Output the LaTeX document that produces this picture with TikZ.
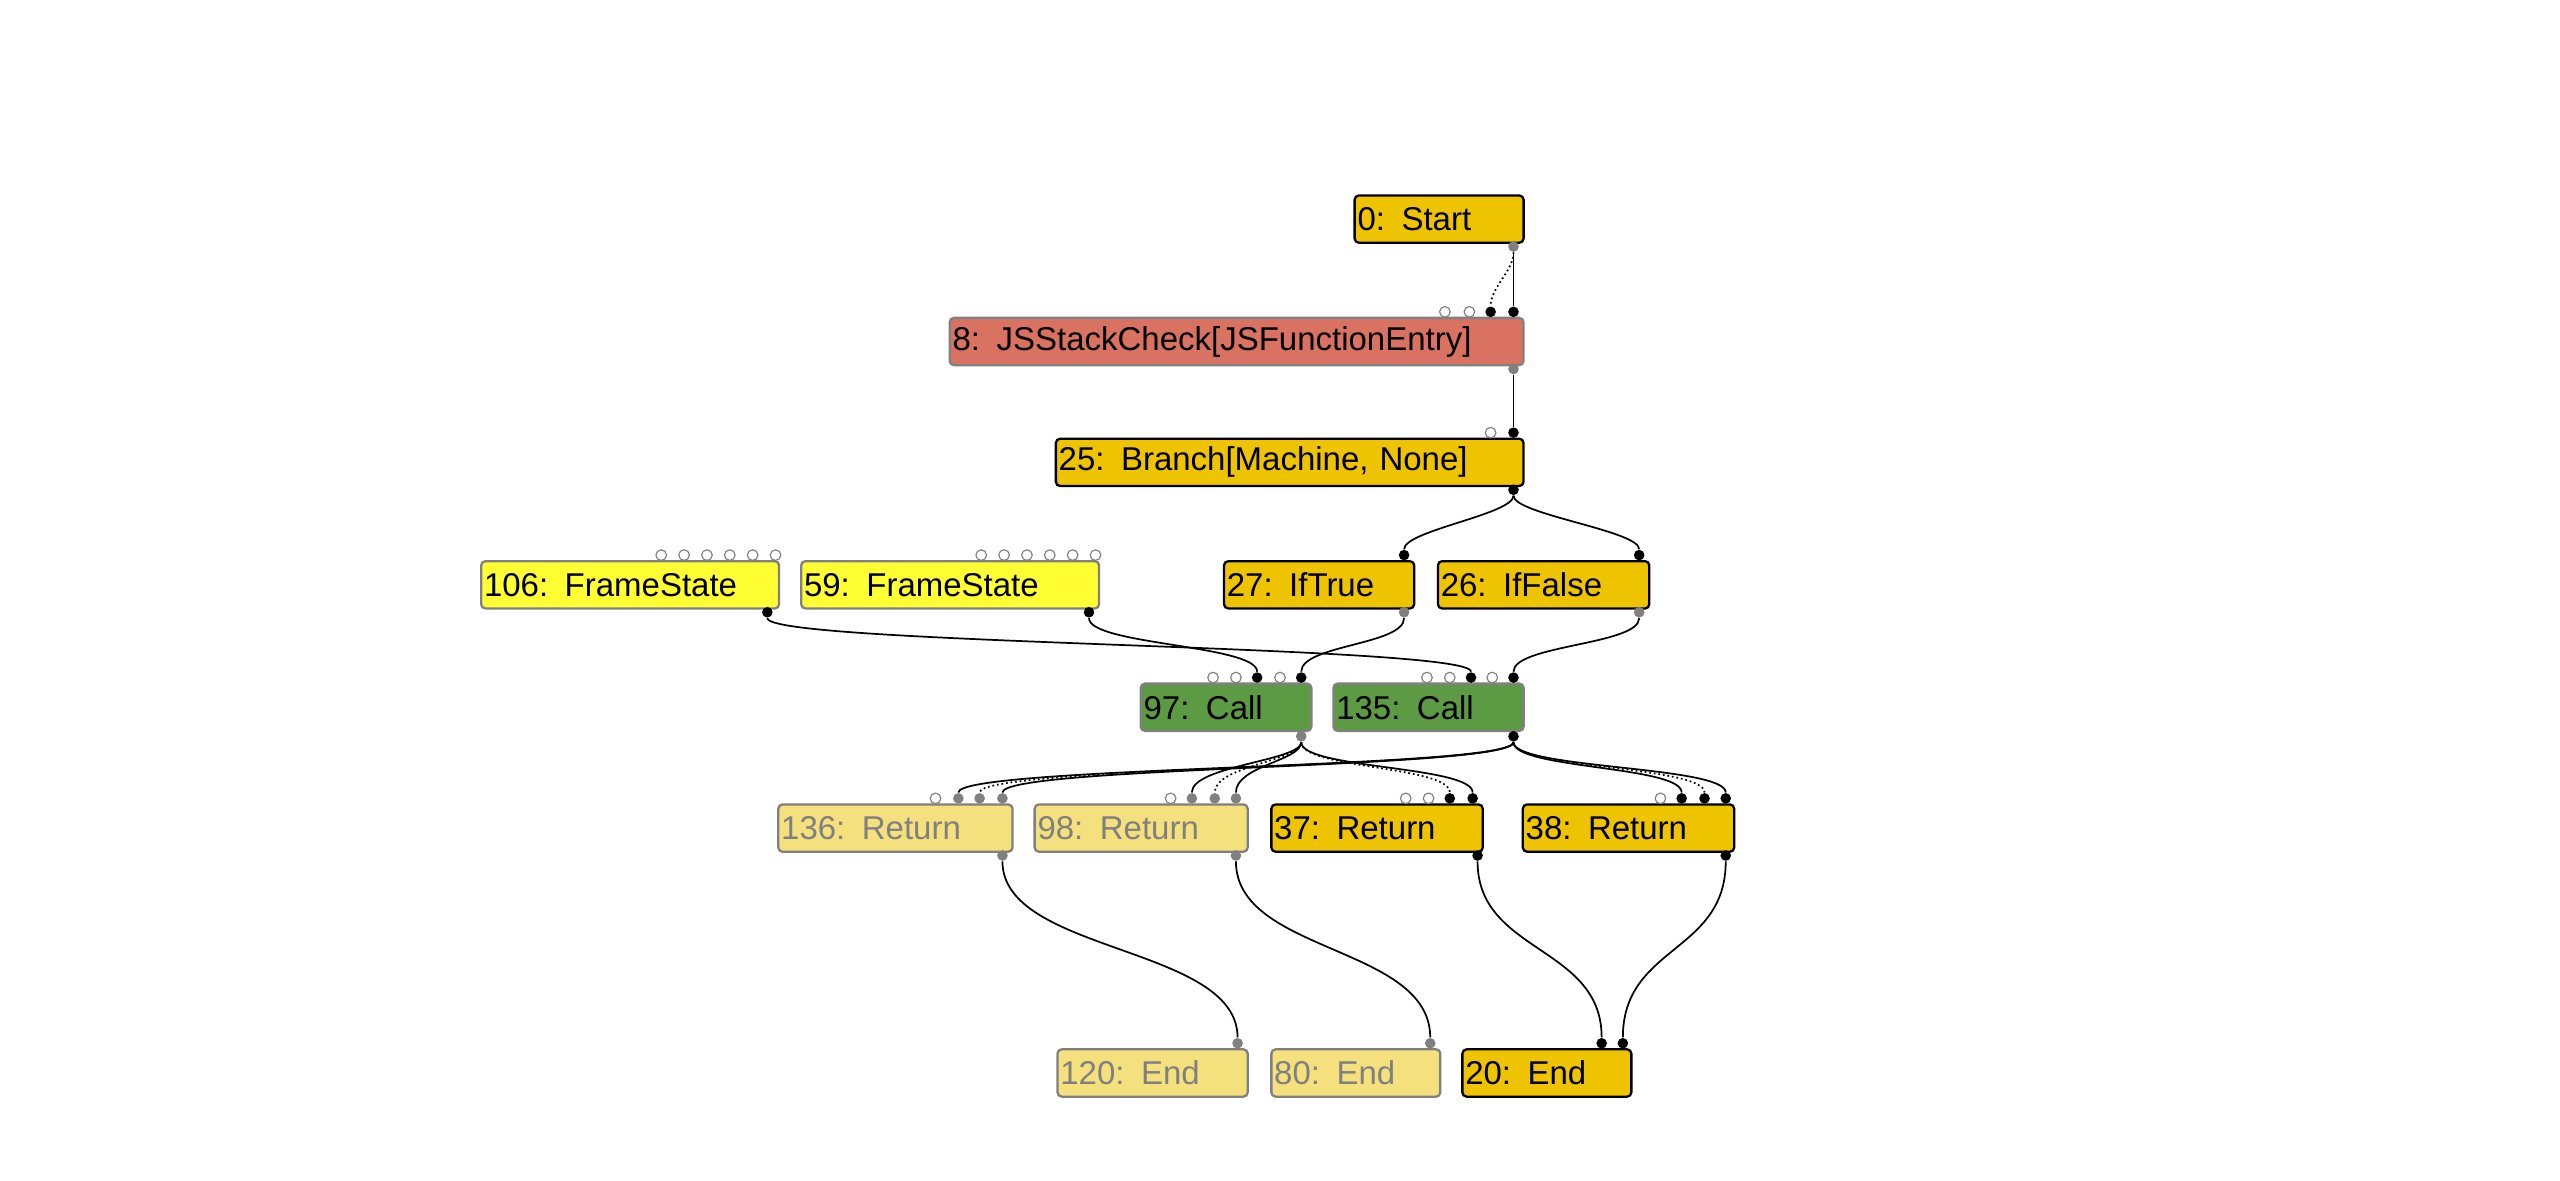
\documentclass[tikz,border=0pt]{standalone}
\usepackage{fontspec}
\setmainfont{Liberation Sans}
\usetikzlibrary{positioning}
\definecolor{opyellow}{HTML}{EEC400}
\definecolor{opred}{HTML}{D97260}
\definecolor{opframe}{HTML}{FFFF33}
\definecolor{opgreen}{HTML}{5C9A44}
\definecolor{opfade}{HTML}{F5E07E}
\tikzset{
  opbox/.style={draw=black, line width=0.8pt, rounded corners=1.5pt, anchor=north west,
    minimum height=0.58cm, inner xsep=1pt, inner ysep=0pt, align=left,
    font=\fontsize{11.5}{13}\selectfont},
  fadebox/.style={opbox, fill=opfade, draw=gray, text=gray},
  inport/.style={circle, inner sep=0pt, minimum size=0.13cm, fill=black},
  openport/.style={circle, inner sep=0pt, minimum size=0.13cm, draw=gray, line width=0.4pt, fill=white},
  greyport/.style={inport, fill=gray},
  wire/.style={line width=0.6pt},
}
\begin{document}
\begin{tikzpicture}[x=0.02cm,y=-0.02cm]
\useasboundingbox (0,0) rectangle (1568,723);
% nodes
\node[opbox, fill=opyellow, text width=2.0cm] (n0) at (829,119) {0: Start};
\node[opbox, fill=opred, draw=gray, text width=6.96cm] (n8) at (581,194) {8: JSStackCheck[JSFunctionEntry]};
\node[opbox, fill=opyellow, text width=5.66cm] (n25) at (646,268) {25: Branch[Machine, None]};
\node[opbox, fill=opframe, draw=gray, text width=3.58cm] (n106) at (294,343) {106: FrameState};
\node[opbox, fill=opframe, draw=gray, text width=3.58cm] (n59) at (490,343) {59: FrameState};
\node[opbox, fill=opyellow, text width=2.26cm] (n27) at (749,343) {27: IfTrue};
\node[opbox, fill=opyellow, text width=2.52cm] (n26) at (880,343) {26: IfFalse};
\node[opbox, fill=opgreen, draw=gray, text width=2.02cm] (n97) at (698,418) {97: Call};
\node[opbox, fill=opgreen, draw=gray, text width=2.26cm] (n135) at (816,418) {135: Call};
\node[fadebox, text width=2.8cm] (n136) at (476,492) {136: Return};
\node[fadebox, text width=2.54cm] (n98) at (633,492) {98: Return};
\node[opbox, fill=opyellow, text width=2.52cm] (n37) at (778,492) {37: Return};
\node[opbox, fill=opyellow, text width=2.52cm] (n38) at (932,492) {38: Return};
\node[fadebox, text width=2.26cm] (n120) at (647,642) {120: End};
\node[fadebox, text width=2.0cm] (n80) at (778,642) {80: End};
\node[opbox, fill=opyellow, text width=2.0cm] (n20) at (895,642) {20: End};
% open input ports
\foreach \x/\y in {885/191,900/191,913/265,874/415,888/415,914/415,743/415,757/415,784/415,
  573/489,717/489,861/489,875/489,1017/489}
  \node[openport] at (\x,\y) {};
\foreach \x in {405,419,433,447,461,475} \node[openport] at (\x,340) {};
\foreach \x in {601,615,629,643,657,671} \node[openport] at (\x,340) {};
% connected ports
\node[greyport] (p0o) at (927,151) {};
\node[inport] (p8a) at (913,191) {};
\node[inport] (p8b) at (927,191) {};
\node[greyport] (p8o) at (927,226) {};
\node[inport] (p25i) at (927,265) {};
\node[inport] (p25o) at (927,300) {};
\node[inport] (p106o) at (470,375) {};
\node[inport] (p59o) at (667,375) {};
\node[inport] (p27i) at (860,340) {};
\node[greyport] (p27o) at (860,375) {};
\node[inport] (p26i) at (1004,340) {};
\node[greyport] (p26o) at (1004,375) {};
\node[inport] (p97a) at (770,415) {};
\node[inport] (p97b) at (797,415) {};
\node[inport] (p135a) at (901,415) {};
\node[inport] (p135b) at (927,415) {};
\node[greyport] (p97o) at (797,451) {};
\node[inport] (p135o) at (927,451) {};
\node[greyport] (p136a) at (587,489) {};
\node[greyport] (p136b) at (600,489) {};
\node[greyport] (p136c) at (614,489) {};
\node[greyport] (p98a) at (730,489) {};
\node[greyport] (p98b) at (744,489) {};
\node[greyport] (p98c) at (757,489) {};
\node[inport] (p37a) at (888,489) {};
\node[inport] (p37b) at (902,489) {};
\node[inport] (p38a) at (1030,489) {};
\node[inport] (p38b) at (1044,489) {};
\node[inport] (p38c) at (1057,489) {};
\node[greyport] (p136o) at (614,524) {};
\node[greyport] (p98o) at (757,524) {};
\node[inport] (p37o) at (905,524) {};
\node[inport] (p38o) at (1057,524) {};
\node[greyport] (p120i) at (758,639) {};
\node[greyport] (p80i) at (876,639) {};
\node[inport] (p20a) at (981,639) {};
\node[inport] (p20b) at (994,639) {};
% edges
\draw[wire, densely dotted] (p0o) .. controls +(0,15) and +(0,-15) .. (p8a);
\draw[wire] (p0o) -- (p8b);
\draw[wire] (p8o) -- (p25i);
\draw[wire] (p25o) .. controls +(0,15) and +(0,-15) .. (p27i);
\draw[wire] (p25o) .. controls +(0,15) and +(0,-15) .. (p26i);
\draw[wire] (p59o) .. controls +(0,20) and +(0,-20) .. (p97a);
\draw[wire] (p27o) .. controls +(0,20) and +(0,-20) .. (p97b);
\draw[wire] (p106o) .. controls +(0,20) and +(0,-20) .. (p135a);
\draw[wire] (p26o) .. controls +(0,20) and +(0,-20) .. (p135b);
\draw[wire] (p135o) .. controls +(0,20) and +(0,-20) .. (p136a);
\draw[wire, densely dotted] (p135o) .. controls +(0,20) and +(0,-20) .. (p136b);
\draw[wire] (p135o) .. controls +(0,20) and +(0,-20) .. (p136c);
\draw[wire] (p97o) .. controls +(0,15) and +(0,-20) .. (p98a);
\draw[wire, densely dotted] (p97o) .. controls +(0,15) and +(0,-20) .. (p98b);
\draw[wire] (p97o) .. controls +(0,15) and +(0,-20) .. (p98c);
\draw[wire, densely dotted] (p97o) .. controls +(0,20) and +(0,-20) .. (p37a);
\draw[wire] (p97o) .. controls +(0,20) and +(0,-20) .. (p37b);
\draw[wire] (p135o) .. controls +(0,20) and +(0,-20) .. (p38a);
\draw[wire, densely dotted] (p135o) .. controls +(0,20) and +(0,-20) .. (p38b);
\draw[wire] (p135o) .. controls +(0,20) and +(0,-20) .. (p38c);
\draw[wire] (p136o) .. controls +(0,60) and +(0,-60) .. (p120i);
\draw[wire] (p98o) .. controls +(0,60) and +(0,-60) .. (p80i);
\draw[wire] (p37o) .. controls +(0,60) and +(0,-60) .. (p20a);
\draw[wire] (p38o) .. controls +(0,60) and +(0,-60) .. (p20b);
\end{tikzpicture}
\end{document}
